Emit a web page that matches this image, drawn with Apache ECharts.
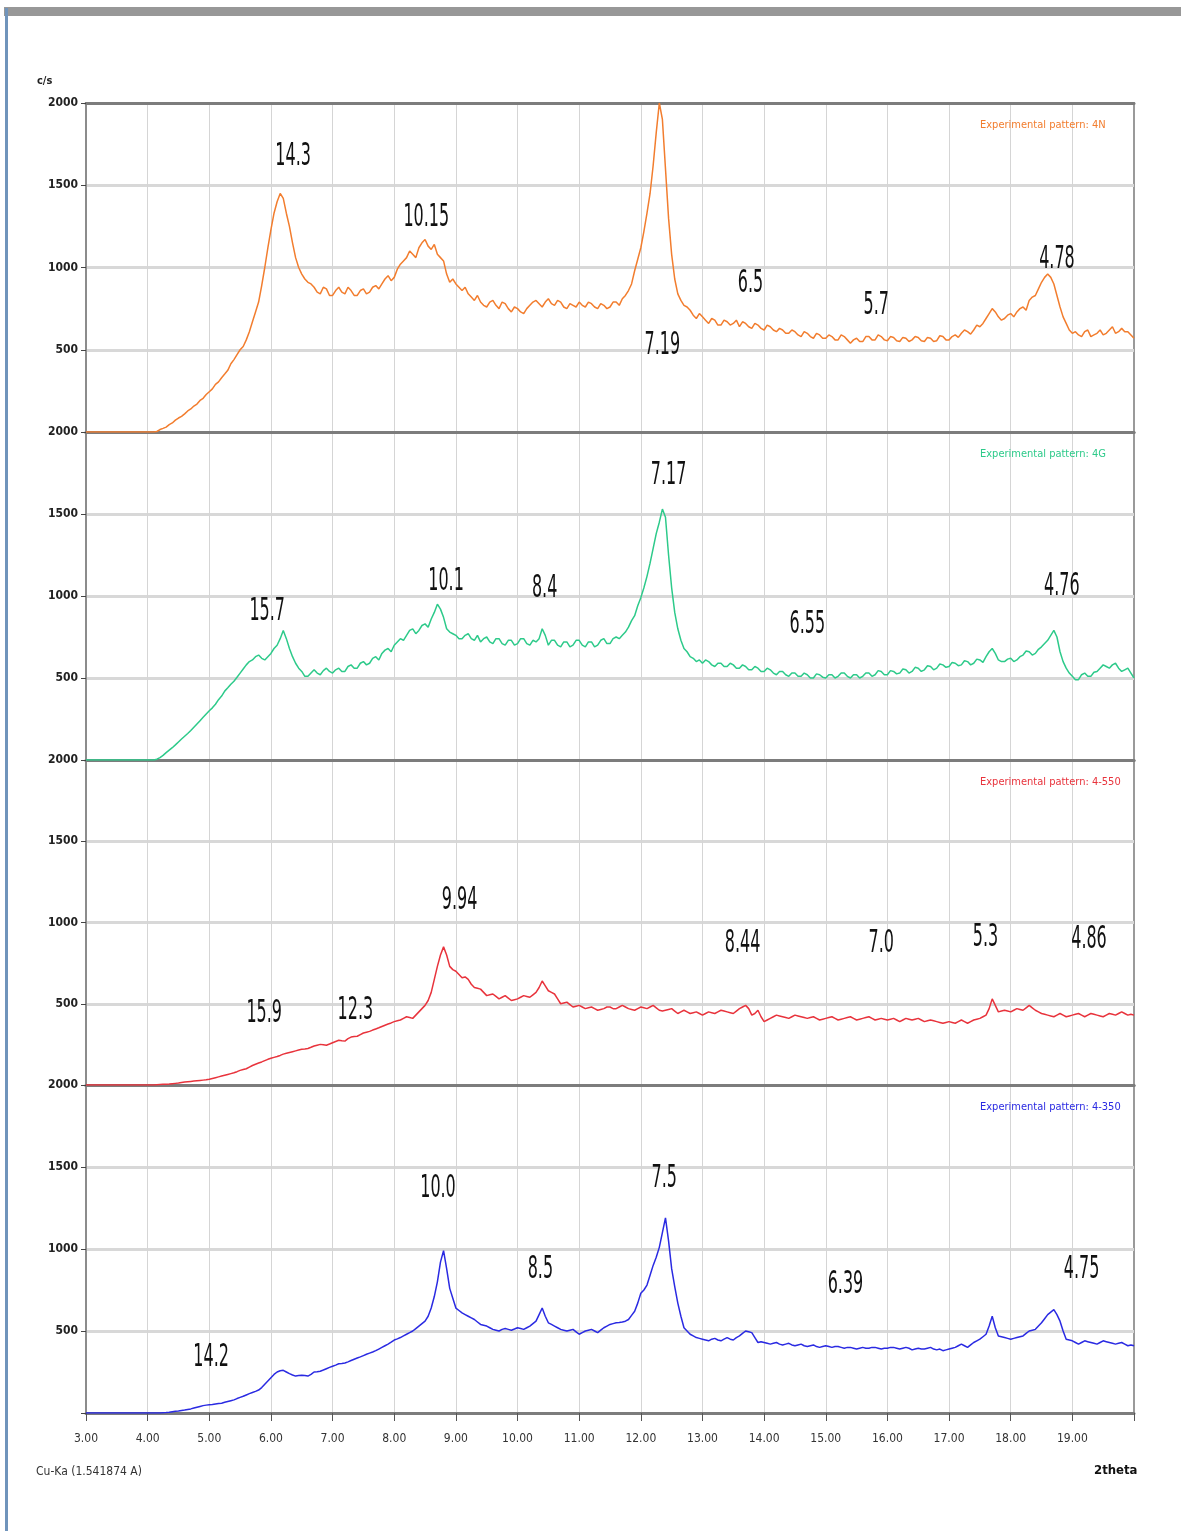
<!DOCTYPE html>
<html>
<head>
<meta charset="utf-8">
<title>XRD patterns</title>
<script src="https://cdn.jsdelivr.net/npm/echarts@6/dist/echarts.min.js"></script>
<style>
  html, body { margin: 0; padding: 0; background: #ffffff; }
  #chart { width: 1181px; height: 1531px; }
</style>
</head>
<body>
<div id="chart"></div>
<script>
// 2-theta scan: start angle and step size (degrees)
const SCAN_START = 3.0;
const SCAN_STEP = 0.05;

const sampleNames = ['Experimental pattern: 4N', 'Experimental pattern: 4G',
                     'Experimental pattern: 4-550', 'Experimental pattern: 4-350'];
const sampleColors = ['#f27d2e', '#2dca8a', '#e8333c', '#2a2ae2'];

// intensities (c/s), one value per scan step, 3.00 .. 20.00 deg (20 steps per line)
const int4N = [
  0, 0, 0, 0, 0, 0, 0, 0, 0, 0, 0, 0, 0, 0, 0, 0, 0, 0, 0, 0,
  0, 0, 0, 3, 15, 22, 30, 45, 55, 72, 85, 95, 110, 128, 140, 158, 170, 192, 205, 228,
  245, 262, 290, 305, 330, 352, 375, 415, 440, 470, 500, 520, 560, 610, 670, 730, 790, 890, 1000, 1120,
  1230, 1330, 1400, 1450, 1420, 1330, 1250, 1150, 1060, 1000, 960, 930, 910, 900, 880, 850, 840, 880, 870, 830,
  830, 860, 880, 850, 840, 880, 860, 830, 830, 860, 870, 840, 850, 880, 890, 870, 900, 930, 950, 920,
  940, 990, 1020, 1040, 1060, 1100, 1080, 1060, 1120, 1150, 1170, 1130, 1110, 1140, 1080, 1060, 1040, 960, 910, 930,
  900, 880, 860, 880, 840, 820, 800, 830, 790, 770, 760, 790, 800, 770, 750, 790, 780, 750, 730, 760,
  750, 730, 720, 750, 770, 790, 800, 780, 760, 790, 810, 780, 770, 800, 790, 760, 750, 780, 770, 760,
  790, 770, 760, 790, 780, 760, 750, 780, 770, 750, 760, 790, 790, 770, 810, 830, 860, 900, 980, 1050,
  1120, 1220, 1330, 1450, 1620, 1820, 2000, 1900, 1600, 1300, 1080, 930, 840, 800, 770, 760, 740, 710, 690, 720,
  700, 680, 660, 690, 680, 650, 650, 680, 670, 650, 660, 680, 640, 670, 660, 640, 630, 660, 650, 630,
  620, 650, 640, 620, 610, 630, 620, 600, 600, 620, 610, 590, 580, 610, 600, 580, 570, 600, 590, 570,
  570, 590, 580, 560, 560, 590, 580, 560, 540, 560, 570, 550, 550, 580, 580, 560, 560, 590, 580, 560,
  555, 580, 575, 555, 550, 575, 570, 550, 560, 580, 575, 555, 550, 575, 570, 550, 555, 585, 580, 560,
  560, 580, 590, 575, 600, 620, 610, 595, 620, 650, 640, 660, 690, 720, 750, 730, 700, 680, 690, 710,
  720, 700, 730, 750, 760, 740, 800, 820, 830, 870, 910, 940, 960, 940, 900, 830, 760, 700, 660, 620,
  600, 610, 590, 580, 610, 620, 580, 590, 600, 620, 590, 600, 620, 640, 600, 610, 630, 610, 610, 590,
  570
];
const int4G = [
  0, 0, 0, 0, 0, 0, 0, 0, 0, 0, 0, 0, 0, 0, 0, 0, 0, 0, 0, 0,
  0, 0, 0, 5, 15, 28, 45, 60, 75, 92, 110, 128, 145, 162, 180, 200, 220, 240, 260, 280,
  300, 318, 340, 368, 390, 420, 440, 462, 480, 505, 530, 555, 580, 600, 610, 630, 640, 620, 610, 630,
  650, 680, 700, 740, 790, 740, 680, 630, 590, 560, 540, 510, 510, 530, 550, 530, 520, 545, 560, 540,
  530, 550, 560, 540, 540, 570, 580, 560, 560, 590, 600, 580, 590, 620, 630, 610, 650, 670, 680, 660,
  700, 720, 740, 730, 760, 790, 800, 770, 790, 820, 830, 810, 860, 900, 950, 920, 870, 800, 780, 770,
  760, 740, 740, 760, 770, 740, 730, 760, 720, 740, 750, 720, 710, 740, 740, 710, 700, 730, 730, 700,
  710, 740, 740, 710, 700, 730, 720, 740, 800, 760, 700, 730, 730, 700, 690, 720, 720, 690, 700, 730,
  730, 700, 690, 720, 720, 690, 700, 730, 740, 710, 710, 740, 750, 740, 760, 780, 810, 850, 880, 940,
  990, 1050, 1120, 1200, 1290, 1380, 1450, 1530, 1480, 1250, 1050, 900, 800, 730, 680, 660, 630, 620, 600, 610,
  590, 610, 600, 580, 570, 590, 590, 570, 570, 590, 580, 560, 560, 580, 570, 550, 550, 570, 560, 540,
  540, 560, 550, 530, 520, 540, 540, 520, 510, 530, 530, 510, 510, 530, 520, 500, 500, 525, 520, 505,
  500, 520, 520, 500, 510, 530, 530, 510, 500, 520, 520, 500, 510, 530, 530, 510, 520, 545, 540, 520,
  520, 545, 540, 525, 530, 555, 550, 530, 540, 565, 560, 540, 550, 575, 570, 550, 560, 585, 580, 565,
  570, 595, 590, 575, 580, 605, 600, 580, 590, 615, 610, 595, 630, 660, 680, 650, 610, 600, 600, 615,
  620, 600, 610, 630, 640, 665, 660, 640, 650, 675, 690, 710, 730, 760, 790, 750, 660, 600, 560, 530,
  510, 490, 490, 520, 530, 510, 510, 535, 540, 560, 580, 570, 560, 580, 590, 560, 540, 550, 560, 530,
  500
];
const int4_550 = [
  0, 0, 0, 0, 0, 0, 0, 0, 0, 0, 0, 0, 0, 0, 0, 0, 0, 0, 0, 0,
  0, 0, 0, 2, 3, 4, 5, 6, 8, 10, 12, 15, 18, 20, 22, 24, 26, 28, 30, 32,
  35, 40, 45, 50, 55, 60, 65, 70, 75, 82, 90, 95, 100, 110, 120, 128, 135, 142, 150, 158,
  165, 170, 175, 182, 190, 195, 200, 205, 210, 215, 220, 222, 225, 232, 240, 245, 250, 248, 245, 252,
  260, 268, 275, 272, 270, 285, 295, 298, 300, 310, 320, 325, 330, 338, 345, 352, 360, 368, 375, 382,
  390, 395, 400, 410, 420, 415, 410, 430, 450, 470, 490, 520, 570, 650, 730, 800, 850, 800, 730, 710,
  700, 680, 660, 665, 650, 620, 600, 595, 590, 570, 550, 555, 560, 545, 530, 540, 550, 535, 520, 525,
  530, 540, 550, 545, 540, 555, 570, 600, 640, 610, 580, 570, 560, 530, 500, 505, 510, 495, 480, 485,
  490, 480, 470, 475, 480, 470, 460, 465, 470, 480, 480, 470, 470, 480, 490, 480, 470, 465, 460, 470,
  480, 475, 470, 480, 490, 475, 460, 455, 460, 465, 470, 455, 440, 450, 460, 450, 440, 445, 450, 440,
  430, 440, 450, 445, 440, 450, 460, 455, 450, 445, 440, 455, 470, 480, 490, 470, 430, 440, 460, 420,
  390, 400, 410, 420, 430, 425, 420, 415, 410, 420, 430, 425, 420, 415, 410, 415, 420, 410, 400, 405,
  410, 415, 420, 410, 400, 405, 410, 415, 420, 410, 400, 405, 410, 415, 420, 410, 400, 405, 410, 405,
  400, 405, 410, 400, 390, 400, 410, 405, 400, 405, 410, 400, 390, 395, 400, 395, 390, 385, 380, 385,
  390, 385, 380, 390, 400, 390, 380, 390, 400, 405, 410, 420, 430, 470, 530, 490, 450, 455, 460, 455,
  450, 460, 470, 465, 460, 475, 490, 475, 460, 450, 440, 435, 430, 425, 420, 430, 440, 430, 420, 425,
  430, 435, 440, 430, 420, 430, 440, 435, 430, 425, 420, 430, 440, 435, 430, 440, 450, 440, 430, 435,
  430
];
const int4_350 = [
  0, 0, 0, 0, 0, 0, 0, 0, 0, 0, 0, 0, 0, 0, 0, 0, 0, 0, 0, 0,
  0, 0, 0, 0, 0, 2, 3, 5, 8, 10, 12, 15, 18, 22, 25, 30, 35, 40, 45, 48,
  50, 52, 55, 58, 60, 65, 70, 75, 80, 88, 95, 102, 110, 118, 125, 132, 140, 155, 175, 195,
  215, 235, 250, 258, 260, 250, 240, 232, 225, 228, 230, 228, 225, 235, 250, 252, 255, 262, 270, 278,
  285, 292, 300, 302, 305, 312, 320, 328, 335, 342, 350, 358, 365, 372, 380, 390, 400, 410, 420, 432,
  445, 452, 460, 470, 480, 490, 500, 515, 530, 545, 560, 590, 640, 710, 800, 920, 990, 880, 760, 700,
  640, 625, 610, 600, 590, 580, 570, 555, 540, 535, 530, 520, 510, 505, 500, 510, 515, 510, 505, 512,
  520, 515, 510, 520, 530, 545, 560, 600, 640, 590, 550, 540, 530, 520, 510, 505, 500, 505, 510, 495,
  480, 490, 500, 505, 510, 500, 490, 505, 520, 530, 540, 545, 550, 552, 555, 560, 570, 595, 620, 670,
  730, 750, 780, 840, 900, 950, 1010, 1100, 1190, 1050, 880, 770, 670, 590, 520, 500, 480, 470, 460, 455,
  450, 445, 440, 450, 455, 445, 440, 450, 460, 450, 445, 460, 470, 485, 500, 495, 490, 460, 430, 435,
  430, 425, 420, 425, 430, 420, 415, 420, 425, 415, 410, 415, 420, 410, 405, 410, 415, 405, 400, 405,
  410, 405, 400, 405, 405, 400, 395, 400, 400, 395, 390, 395, 400, 395, 395, 400, 400, 395, 390, 395,
  395, 400, 400, 395, 390, 395, 400, 395, 385, 390, 395, 390, 390, 395, 400, 390, 385, 390, 380, 385,
  390, 395, 400, 410, 420, 410, 400, 415, 430, 440, 450, 465, 480, 530, 590, 520, 470, 465, 460, 455,
  450, 455, 460, 465, 470, 485, 500, 505, 510, 530, 550, 575, 600, 615, 630, 600, 560, 500, 450, 445,
  440, 430, 420, 430, 440, 435, 430, 425, 420, 430, 440, 435, 430, 425, 420, 425, 430, 420, 410, 415,
  410
];

// d-spacing annotations: [2theta, intensity, text]
const dLabels4N = [[6.36, 1671, '14.3'], [8.52, 1300, '10.15'], [12.35, 525, '7.19'],
                   [13.78, 903, '6.5'], [15.82, 769, '5.7'], [18.75, 1049, '4.78']];
const dLabels4G = [[5.94, 903, '15.7'], [8.84, 1086, '10.1'], [10.44, 1043, '8.4'],
                   [12.45, 1732, '7.17'], [14.7, 823, '6.55'], [18.83, 1055, '4.76']];
const dLabels4_550 = [[9.06, 1135, '9.94'], [13.65, 866, '8.44'], [15.9, 866, '7.0'],
                      [17.59, 903, '5.3'], [19.27, 891, '4.86'], [5.89, 439, '15.9'],
                      [7.37, 458, '12.3']];
const dLabels4_350 = [[8.71, 1366, '10.0'], [12.38, 1427, '7.5'], [10.37, 872, '8.5'],
                      [15.32, 781, '6.39'], [19.15, 872, '4.75'], [5.03, 335, '14.2']];

const intensities = [int4N, int4G, int4_550, int4_350];
const dLabels = [dLabels4N, dLabels4G, dLabels4_550, dLabels4_350];

// ---- layout ----
const NARROW = '"Liberation Sans Narrow", "DejaVu Sans Condensed", "Roboto Condensed", sans-serif';
const panelTop = [103, 432, 760, 1085];
const panelHeight = [329, 328, 325, 328];
const PLOT_LEFT = 86, PLOT_RIGHT = 47;
const last = panelTop.length - 1;

const grid = [], xAxis = [], yAxis = [], series = [], legend = [];

panelTop.forEach((top, i) => {
  grid.push({
    left: PLOT_LEFT, right: PLOT_RIGHT, top: top, height: panelHeight[i],
    show: true, borderColor: '#9a9a9a', borderWidth: 2, backgroundColor: 'transparent'
  });

  // bottom 2-theta axis of the panel
  xAxis.push({
    type: 'value', gridIndex: i, min: 3, max: 20, interval: 1,
    axisLine: { show: true, onZero: false, lineStyle: { color: '#7c7c7c', width: 3 } },
    axisTick: { show: i === last, length: 8, lineStyle: { color: '#555', width: 1 } },
    axisLabel: {
      show: i === last, margin: 20, color: '#333', fontSize: 12, fontFamily: NARROW,
      formatter: v => (v >= 20 ? '' : v.toFixed(2))
    },
    splitLine: { show: true, showMinLine: false, showMaxLine: false,
                 lineStyle: { color: '#d5d5d5', width: 1 } }
  });
  // top frame line of the panel
  xAxis.push({
    type: 'value', gridIndex: i, min: 3, max: 20, position: 'top',
    axisLine: { show: true, onZero: false, lineStyle: { color: '#7c7c7c', width: 3 } },
    axisTick: { show: false }, axisLabel: { show: false }, splitLine: { show: false }
  });

  yAxis.push({
    type: 'value', gridIndex: i, min: 0, max: 2000, interval: 500,
    axisLine: { show: true, onZero: false, lineStyle: { color: '#8c8c8c', width: 2 } },
    axisTick: { show: true, length: 5, lineStyle: { color: '#444', width: 1 } },
    axisLabel: {
      margin: 8, color: '#222', fontSize: 12, fontWeight: 'bold', fontFamily: NARROW,
      formatter: v => (v === 0 ? '' : String(v))
    },
    splitLine: { show: true, showMinLine: false, showMaxLine: false,
                 lineStyle: { color: '#d8d8d8', width: 3 } }
  });

  const values = intensities[i];
  series.push({
    name: sampleNames[i],
    type: 'line',
    xAxisIndex: 2 * i, yAxisIndex: i,
    data: values.map((v, k) => [+(SCAN_START + k * SCAN_STEP).toFixed(2), v]),
    showSymbol: false, symbol: 'none',
    lineStyle: { color: sampleColors[i], width: 1.5 },
    itemStyle: { color: sampleColors[i] },
    z: 3
  });

  const labels = dLabels[i];
  series.push({
    name: 'd-spacing ' + i,
    type: 'custom',
    xAxisIndex: 2 * i, yAxisIndex: i,
    data: labels.map(d => [d[0], d[1]]),
    silent: true, clip: false, z: 5,
    renderItem: (params, api) => {
      const p = api.coord([api.value(0), api.value(1)]);
      return {
        type: 'text', x: p[0], y: p[1], scaleX: 0.74, scaleY: 1.3,
        style: {
          text: labels[params.dataIndex][2],
          fill: '#111', fontSize: 24, fontFamily: NARROW,
          align: 'center', verticalAlign: 'middle'
        }
      };
    }
  });

  legend.push({
    left: 970, top: top + 12,
    icon: 'none', itemWidth: 0, itemHeight: 0, itemGap: 0,
    selectedMode: false,
    textStyle: { fontSize: 11, fontFamily: NARROW },
    data: [{ name: sampleNames[i], textStyle: { color: sampleColors[i] } }]
  });
});

const chart = echarts.init(document.getElementById('chart'), null, { renderer: 'canvas' });
chart.setOption({
  animation: false,
  backgroundColor: '#ffffff',
  grid, xAxis, yAxis, series, legend,
  graphic: [
    // window frame
    { type: 'rect', left: 4, top: 7, shape: { width: 1177, height: 9 },
      style: { fill: '#989898' }, silent: true },
    { type: 'rect', left: 5, top: 8, shape: { width: 3, height: 1523 },
      style: { fill: '#7094bb' }, silent: true },
    // axis captions
    { type: 'text', left: 37, top: 76,
      style: { text: 'c/s', fill: '#222', fontSize: 11, fontWeight: 'bold', fontFamily: NARROW } },
    { type: 'text', left: 36, top: 1466,
      style: { text: 'Cu-Ka (1.541874 A)', fill: '#333', fontSize: 12, fontFamily: NARROW } },
    { type: 'text', left: 1094, top: 1464,
      style: { text: '2theta', fill: '#111', fontSize: 13, fontWeight: 'bold', fontFamily: NARROW } }
  ]
});
</script>
</body>
</html>
